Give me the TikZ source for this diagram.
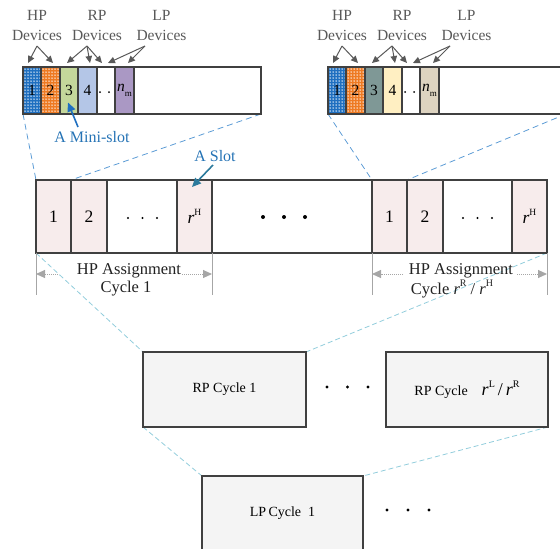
\documentclass[tikz,border=0pt]{standalone}
\usepackage{fontspec}
\setmainfont{Liberation Serif}
\usetikzlibrary{arrows.meta,calc}
\definecolor{outl}{HTML}{404040}
\definecolor{hpblue}{HTML}{1F6FC0}
\definecolor{hporange}{HTML}{EE7A22}
\definecolor{lgreen}{HTML}{C4D79B}
\definecolor{lblue}{HTML}{B4C6E7}
\definecolor{lpurple}{HTML}{AA98C4}
\definecolor{tealgray}{HTML}{7F9896}
\definecolor{lyellow}{HTML}{FFEFC2}
\definecolor{ltan}{HTML}{DDD3C0}
\definecolor{slotpink}{HTML}{F7ECEC}
\definecolor{boxgray}{HTML}{F4F4F4}
\definecolor{dashblue}{HTML}{5B9BD5}
\definecolor{dashcyan}{HTML}{92CDDC}
\definecolor{txtblue}{HTML}{2573B5}
\definecolor{arrteal}{HTML}{2C7A9C}
\definecolor{labgray}{HTML}{595959}
\definecolor{brgray}{HTML}{A6A6A6}
\definecolor{txtdark}{HTML}{222222}
\newcommand{\rsup}[2][10]{{\itshape r}\raisebox{0.45em}{\fontsize{#1}{#1}\selectfont #2}}
\newcommand{\nmsub}{{\itshape n}\raisebox{-0.3em}{\fontsize{9}{9}\selectfont m}}
\pgfdeclarelayer{bg}
\pgfdeclarelayer{fg}
\pgfsetlayers{bg,main,fg}
\begin{document}
\begin{tikzpicture}[x=1pt,y=-1pt,
  cell/.style={draw=outl, line width=1.2pt, inner sep=0pt, outer sep=0pt, minimum height=47, font=\fontsize{15.5}{15.5}\selectfont},
  slot/.style={draw=outl, line width=1.2pt, inner sep=0pt, outer sep=0pt, minimum height=73, fill=slotpink, font=\fontsize{17.5}{17.5}\selectfont},
  cyclebox/.style={draw=outl, line width=1.2pt, fill=boxgray, inner sep=0pt, outer sep=0pt, minimum width=163, minimum height=75, font=\fontsize{14}{14}\selectfont},
  devlab/.style={text=labgray, align=center, font=\fontsize{15.5}{20}\selectfont, inner sep=0pt},
  devarrow/.style={draw=labgray, line width=1pt, -{Triangle[length=7pt,width=6.5pt]}},
  zoomline/.style={dashblue, dash pattern=on 6pt off 4pt, line width=0.8pt},
  zoomlinetwo/.style={dashcyan, dash pattern=on 5pt off 3pt, line width=0.8pt},
  bracket/.style={brgray, line width=1pt},
  spanarrow/.style={brgray, densely dotted, line width=1pt, -{Triangle[length=9pt,width=8pt]}},
  spantext/.style={text=txtdark, inner sep=0pt, font=\fontsize{16.5}{18}\selectfont},
  calloutarrow/.style={line width=1.6pt, -{Triangle[length=9pt,width=8pt]}}
]
\useasboundingbox (0,0) rectangle (560,549);
\clip (0,0) rectangle (560,549);

% ---------- left mini-slot bar ----------
\node[cell, minimum width=238, fill=white] (mbarL) at (142,90.5) {};
\node[cell, minimum width=18, fill=hpblue] (m1L) at (32,90.5) {};
\node[cell, minimum width=19, fill=hporange] (m2L) at (50.5,90.5) {};
\node[cell, minimum width=18, fill=lgreen] (m3L) at (69,90.5) {3};
\node[cell, minimum width=19, fill=lblue] (m4L) at (87.5,90.5) {4};
\node[cell, minimum width=18, fill=white] (m5L) at (106,90.5) {};
\node[cell, minimum width=19, fill=lpurple] (m6L) at (124.5,90.5) {\nmsub};
\fill (100,92) circle (1pt) (109,92) circle (1pt);

% ---------- right mini-slot bar ----------
\node[cell, minimum width=238, fill=white] (mbarR) at (447,90.5) {};
\node[cell, minimum width=18, fill=hpblue] (m1R) at (337,90.5) {};
\node[cell, minimum width=19, fill=hporange] (m2R) at (355.5,90.5) {};
\node[cell, minimum width=18, fill=tealgray] (m3R) at (374,90.5) {3};
\node[cell, minimum width=19, fill=lyellow] (m4R) at (392.5,90.5) {4};
\node[cell, minimum width=18, fill=white] (m5R) at (411,90.5) {};
\node[cell, minimum width=19, fill=ltan] (m6R) at (429.5,90.5) {\nmsub};
\fill (405,92) circle (1pt) (414,92) circle (1pt);

% white dot texture on the HP mini-slots
\foreach \c in {m1L,m2L,m1R,m2R}{
  \begin{scope}
    \clip ($(\c.south west)+(1,-1)$) rectangle ($(\c.north east)+(-1,1)$);
    \foreach \i in {0,...,6}{
      \foreach \j in {0,...,15}{
        \fill[white] ($(\c.north west)+(2+3*\i,2+3*\j)$) circle (0.75pt);
      }
    }
  \end{scope}
  \draw[outl, line width=1.2pt] (\c.south west) rectangle (\c.north east);
}
\node[font=\fontsize{15.5}{15.5}\selectfont, inner sep=0pt] (d1L) at (m1L) {1};
\node[font=\fontsize{15.5}{15.5}\selectfont, inner sep=0pt] (d2L) at (m2L) {2};
\node[font=\fontsize{15.5}{15.5}\selectfont, inner sep=0pt] (d1R) at (m1R) {1};
\node[font=\fontsize{15.5}{15.5}\selectfont, inner sep=0pt] (d2R) at (m2R) {2};

% ---------- device labels and arrows ----------
\node[devlab] (hpL) at (37,25) {HP\\Devices};
\node[devlab] (rpL) at (97,25) {RP\\Devices};
\node[devlab] (lpL) at (161.5,25) {LP\\Devices};
\node[devlab] (hpR) at (342,25) {HP\\Devices};
\node[devlab] (rpR) at (402,25) {RP\\Devices};
\node[devlab] (lpR) at (466.5,25) {LP\\Devices};
\coordinate (hpLo) at (37,46);
\coordinate (rpLo) at (87,46);
\coordinate (lpLo) at (145,46);
\coordinate (hpRo) at (342,46);
\coordinate (rpRo) at (392,46);
\coordinate (lpRo) at (450,46);
\foreach \s/\o in {L/hpLo,R/hpRo}{
  \draw[devarrow] (\o) -- ($(m1\s.north)+(-4,-4)$);
  \draw[devarrow] (\o) -- ($(m2\s.north)+(2.5,-4)$);
}
\foreach \s/\o in {L/rpLo,R/rpRo}{
  \draw[devarrow] (\o) -- ($(m3\s.north)+(-2,-4)$);
  \draw[devarrow] (\o) -- ($(m4\s.north)+(2.5,-4)$);
  \draw[devarrow] (\o) -- ($(m5\s.north)+(-4,-4)$);
}
\foreach \s/\o in {L/lpLo,R/lpRo}{
  \draw[devarrow] (\o) -- ($(m5\s.north)+(2,-4)$);
  \draw[devarrow] (\o) -- ($(m6\s.north)+(3.5,-4)$);
}

% ---------- main slot bar ----------
\node[slot, minimum width=511, fill=white] (mainbar) at (291.5,216.5) {};
\node[slot, minimum width=35] (s1L) at (53.5,216.5) {1};
\node[slot, minimum width=36] (s2L) at (89,216.5) {2};
\node[slot, minimum width=70, fill=white] (s3L) at (142,216.5) {};
\node[slot, minimum width=35] (s4L) at (194.5,216.5) {\rsup[9.5]{H}};
\node[slot, minimum width=160, fill=white] (gap) at (292,216.5) {};
\node[slot, minimum width=35] (s1R) at (389.5,216.5) {1};
\node[slot, minimum width=36] (s2R) at (425,216.5) {2};
\node[slot, minimum width=69, fill=white] (s3R) at (477.5,216.5) {};
\node[slot, minimum width=35] (s4R) at (529.5,216.5) {\rsup[9.5]{H}};
\foreach \x in {128,142.5,157,463,477.5,492}{\fill (\x,218) circle (1.2pt);}
\foreach \x in {263,284,305}{\fill (\x,217) circle (2pt);}

% ---------- HP assignment brackets ----------
\draw[bracket] (s1L.south west) -- ++(0,42);
\draw[bracket] (s4L.south east) -- ++(0,42);
\draw[bracket] (s1R.south west) -- ++(0,42);
\draw[bracket] (s4R.south east) -- ++(0,42);
\node[spantext] (hpa1) at (129,271) {HP Assignment};
\node[spantext] (cyc1) at (126,289) {Cycle 1};
\node[spantext] (hpa2) at (461,271) {HP Assignment};
\node[spantext] (cyc2) at (452,289) {Cycle \rsup{R} / \rsup{H}};
\coordinate (a1l) at (58,274);
\coordinate (a1r) at (182,274);
\coordinate (a2l) at (403,274);
\coordinate (a2r) at (517,274);
\draw[spanarrow] (a1l) -- (a1l -| s1L.west);
\draw[spanarrow] (a1r) -- (a1r -| s4L.east);
\draw[spanarrow] (a2l) -- (a2l -| s1R.west);
\draw[spanarrow] (a2r) -- (a2r -| s4R.east);

% ---------- callouts ----------
\node[text=txtblue, inner sep=0pt, font=\fontsize{16}{16}\selectfont] (mslab) at (92,137) {A Mini-slot};
\coordinate (msa) at (78,127);
\draw[calloutarrow, hpblue] (msa) -- ($(m3L.center)+(-1,12)$);
\node[text=txtblue, inner sep=0pt, font=\fontsize{16}{16}\selectfont] (slab) at (215,156) {A Slot};
\coordinate (sa) at (213,165);
\draw[calloutarrow, arrteal] (sa) -- ($(s4L.north)+(-2.5,7)$);

% ---------- cycle boxes ----------
\node[cyclebox] (rp1) at (224.5,389.5) {RP Cycle 1};
\node[cyclebox, minimum width=162] (rp2) at (467,389.5) {RP Cycle\quad{\fontsize{18}{18}\selectfont\rsup{L}\,/\,\rsup{R}}};
\node[cyclebox, minimum width=161] (lp1) at (282.5,513.5) {LP\,Cycle\enspace 1};
\foreach \x in {327,347.5,368}{\fill (\x,387) circle (1.7pt);}
\foreach \x in {387,408,429}{\fill (\x,510) circle (1.7pt);}

% ---------- zoom lines ----------
\begin{pgfonlayer}{bg}
\draw[zoomline] (mbarL.south west) -- (s1L.north west);
\draw[zoomline] (mbarL.south east) -- (s1L.north east);
\draw[zoomline] (mbarR.south west) -- (s1R.north west);
\draw[zoomline] (mbarR.south east) -- (s1R.north east);
\draw[zoomlinetwo] (s1L.south west) -- (rp1.north west);
\draw[zoomlinetwo] (s4R.south east) -- (rp1.north east);
\draw[zoomlinetwo] (rp1.south west) -- (lp1.north west);
\draw[zoomlinetwo] (rp2.south east) -- (lp1.north east);
\end{pgfonlayer}
\end{tikzpicture}
\end{document}
